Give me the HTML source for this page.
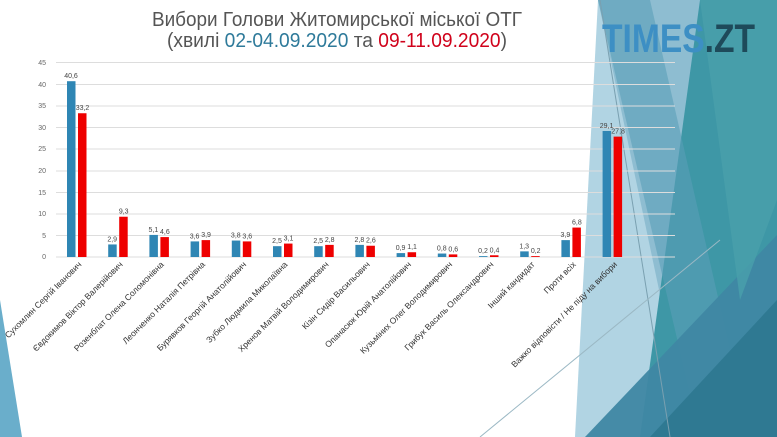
<!DOCTYPE html>
<html><head><meta charset="utf-8"><style>
html,body{margin:0;padding:0;background:#fff;}
svg{display:block;font-family:"Liberation Sans","DejaVu Sans",sans-serif;}
</style></head><body>
<svg width="777" height="437" viewBox="0 0 777 437" xmlns="http://www.w3.org/2000/svg">
<rect width="777" height="437" fill="#fff"/>
<polygon points="598,0 777,0 777,437 575,437" fill="#a9cfe0" opacity="0.9"/>
<polygon points="598,0 700,0 700,437 690,437" fill="#7fb3c9" opacity="0.7"/>
<polygon points="700,0 777,0 777,437 640,437" fill="#3e97a6"/>
<polygon points="598,0 650,0 750,437 700,437" fill="#5a9fb8" opacity="0.6"/>
<polygon points="585,437 777,235 777,437" fill="#3f87a3" opacity="0.95"/>
<polygon points="650,437 777,300 777,437" fill="#2e7890" opacity="0.9"/>
<polygon points="700,0 777,0 777,200 740,300" fill="#4aa0ab" opacity="0.8"/>
<line x1="600" y1="0" x2="670" y2="437" stroke="#7aa0b0" stroke-width="1"/>
<line x1="480" y1="437" x2="720" y2="240" stroke="#9bb8c4" stroke-width="1"/>
<polygon points="0,300 0,437 22,437" fill="#6aaecb"/>
<text x="337" y="26" text-anchor="middle" font-size="20" fill="#555" textLength="370" lengthAdjust="spacingAndGlyphs">Вибори Голови Житомирської міської ОТГ</text>
<text x="337" y="47" text-anchor="middle" font-size="20" fill="#555" textLength="340" lengthAdjust="spacingAndGlyphs">(хвилі <tspan fill="#2e7a9a">02-04.09.2020</tspan> та <tspan fill="#d0021b">09-11.09.2020</tspan>)</text>
<text x="602" y="52" font-size="40" font-weight="bold" fill="#3d8fc4" textLength="153" lengthAdjust="spacingAndGlyphs">TIMES<tspan fill="#1e4a5a">.ZT</tspan></text>
<g stroke="#ddd" stroke-width="1">
<line x1="56" y1="62.5" x2="675" y2="62.5"/><line x1="56" y1="84.5" x2="675" y2="84.5"/>
<line x1="56" y1="106" x2="675" y2="106"/><line x1="56" y1="127.5" x2="675" y2="127.5"/>
<line x1="56" y1="149" x2="675" y2="149"/><line x1="56" y1="171" x2="675" y2="171"/>
<line x1="56" y1="192.5" x2="675" y2="192.5"/><line x1="56" y1="214" x2="675" y2="214"/>
<line x1="56" y1="235.5" x2="675" y2="235.5"/><line x1="56" y1="257" x2="675" y2="257"/>
</g>
<g font-size="7" fill="#666" text-anchor="end">
<text x="46" y="65">45</text><text x="46" y="87">40</text><text x="46" y="108">35</text><text x="46" y="130">30</text><text x="46" y="151">25</text><text x="46" y="173">20</text><text x="46" y="195">15</text><text x="46" y="216">10</text><text x="46" y="238">5</text><text x="46" y="259">0</text>
</g>
<g id="bars"></g>
<g id="labels" font-size="8.5" fill="#333"></g>
<script>
var b=[40.6,2.9,5.1,3.6,3.8,2.5,2.5,2.8,0.9,0.8,0.2,1.3,3.9,29.1];
var r=[33.2,9.3,4.6,3.9,3.6,3.1,2.8,2.6,1.1,0.6,0.4,0.2,6.8,27.8];
var n=["Сухомлин Сергій Іванович","Євдокимов Віктор Валерійович","Розенблат Олена Соломонівна","Леонченко Наталія Петрівна","Бурявков Георгій Анатолійович","Зубко Людмила Миколаївна","Хренов Матвій Володимирович","Кізін Сидір Васильович","Опанасюк Юрій Анатолійович","Кузьміних Олег Володимирович","Грибук Василь Олександрович","Інший кандидат","Проти всіх","Важко відповісти / Не піду на вибори"];
var ns="http://www.w3.org/2000/svg",g=document.getElementById("bars"),L=document.getElementById("labels");
function el(t,a,p){var e=document.createElementNS(ns,t);for(var k in a)e.setAttribute(k,a[k]);p.appendChild(e);return e;}
var k=4.33,base=257;
for(var i=0;i<14;i++){var x=67+41.2*i;
var hb=b[i]*k,hr=r[i]*k;
el("rect",{x:x,y:base-hb,width:8.5,height:hb,fill:"#2f86b4"},g);
el("rect",{x:x+11,y:base-hr,width:8.5,height:hr,fill:"#ee0000"},g);
var t=el("text",{x:x+4,y:base-hb-3,"text-anchor":"middle","font-size":"7",fill:"#444"},g);t.textContent=String(b[i]).replace(".",",");
t=el("text",{x:x+15.5,y:base-hr-3,"text-anchor":"middle","font-size":"7",fill:"#444"},g);t.textContent=String(r[i]).replace(".",",");
t=el("text",{x:0,y:0,"text-anchor":"end",transform:"translate("+(x+15)+",265) rotate(-45)"},L);t.textContent=n[i];}
</script>
</svg>
</body></html>
